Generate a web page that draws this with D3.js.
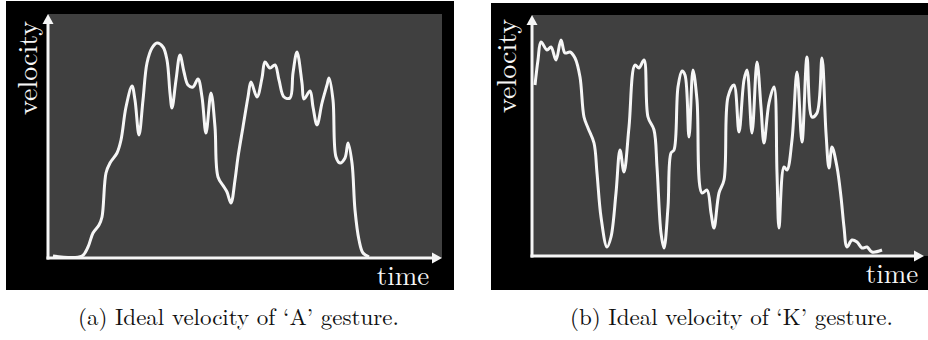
<!DOCTYPE html>
<html>
<head>
<meta charset="utf-8">
<script src="https://cdn.jsdelivr.net/npm/d3@7"></script>
<style>
  body { margin: 0; background: #fff; }
  svg { display: block; }
  text { font-family: "Latin Modern Roman", "Nimbus Roman", "Tinos", serif; }
</style>
</head>
<body>
<svg width="928" height="340"></svg>
<script>
// velocity profiles (time in frames, velocity in arbitrary units)
var aTime = [5, 34, 40, 45, 51, 54, 58, 62, 69, 73, 78, 84, 87, 91, 95, 99, 104, 109, 115, 119,
  122, 124, 128, 132, 136, 140, 145, 150, 154, 158, 163, 167, 170, 176, 179, 183, 187, 190, 195, 200,
  203, 209, 214, 217, 222, 227, 231, 236, 242, 245, 249, 254, 256, 262, 265, 269, 274, 279, 281, 285,
  288, 292, 297, 300, 304, 307, 311, 315, 321];
var aVelocity = [2, 2, 11, 25, 33, 41, 85, 95, 105, 118, 151, 172, 158, 123, 158, 195, 210, 215, 211, 198,
  165, 150, 178, 203, 186, 173, 171, 179, 161, 125, 165, 131, 81, 71, 66, 55, 78, 101, 131, 161,
  176, 161, 180, 196, 190, 193, 178, 161, 160, 185, 206, 175, 159, 167, 151, 133, 155, 173, 180, 158,
  101, 95, 100, 115, 95, 48, 18, 5, 1];

var kTime = [3, 6, 9, 15, 19, 24, 29, 33, 38, 43, 48, 52, 56, 62, 65, 69, 75, 79, 84, 88,
  92, 97, 103, 107, 112, 116, 122, 125, 129, 132, 136, 139, 142, 146, 150, 153, 157, 161, 165, 170,
  175, 179, 182, 187, 192, 196, 202, 207, 212, 215, 220, 225, 229, 232, 237, 242, 245, 247, 252, 255,
  260, 265, 270, 275, 280, 285, 290, 294, 297, 300, 305, 309, 312, 315, 320, 325, 330, 335, 340, 350];
var kVelocity = [171, 196, 214, 206, 209, 196, 216, 203, 204, 198, 179, 139, 128, 113, 83, 39, 9, 19, 63, 106,
  84, 129, 191, 188, 196, 139, 126, 89, 23, 8, 49, 103, 106, 169, 185, 181, 119, 186, 156, 63,
  66, 43, 28, 63, 76, 159, 171, 124, 176, 186, 123, 194, 149, 113, 153, 169, 83, 28, 89, 86,
  116, 184, 114, 199, 139, 143, 198, 123, 88, 109, 89, 59, 29, 9, 16, 14, 8, 9, 4, 6];

var captions = ["(a) Ideal velocity of \u2018A\u2019 gesture.", "(b) Ideal velocity of \u2018K\u2019 gesture."];

var ink = "#f6f6f6";

var svg = d3.select("svg");

var panels = [
  {time: aTime, velocity: aVelocity, frame: [6, 1, 454, 290], x0: 48, x1: 442, gx1: 442, y0: 258, y1: 14,
   tMax: 394, vMax: 244, velLabel: [37, 68], timeLabel: [403, 285], caption: captions[0], capX: 78},
  {time: kTime, velocity: kVelocity, frame: [491, 3, 928, 290], x0: 532, x1: 924, gx1: 928, y0: 256, y1: 15,
   tMax: 396, vMax: 241, velLabel: [516, 66], timeLabel: [892, 283], caption: captions[1], capX: 570}
];

panels.forEach(function (p) {
  var g = svg.append("g");

  g.append("rect")
      .attr("x", p.frame[0]).attr("y", p.frame[1])
      .attr("width", p.frame[2] - p.frame[0]).attr("height", p.frame[3] - p.frame[1])
      .attr("fill", "#000");
  g.append("rect")
      .attr("x", p.x0).attr("y", p.y1)
      .attr("width", p.gx1 - p.x0).attr("height", p.y0 - p.y1)
      .attr("fill", "#404040");

  var x = d3.scaleLinear().domain([0, p.tMax]).range([p.x0, p.gx1]);
  var y = d3.scaleLinear().domain([0, p.vMax]).range([p.y0, p.y1]);

  var line = d3.line()
      .x(function (d) { return x(d[0]); })
      .y(function (d) { return y(d[1]); })
      .curve(d3.curveCatmullRom.alpha(0.5));

  g.append("path")
      .attr("d", line(d3.zip(p.time, p.velocity)))
      .attr("fill", "none")
      .attr("stroke", ink)
      .attr("stroke-width", 3)
      .attr("stroke-linejoin", "round");

  // axes with arrow heads
  g.append("line")
      .attr("x1", p.x0).attr("y1", p.y0 + 1.5).attr("x2", p.x0).attr("y2", p.y1 + 8)
      .attr("stroke", ink).attr("stroke-width", 3);
  g.append("line")
      .attr("x1", p.x0 - 1.5).attr("y1", p.y0).attr("x2", p.x1 - 8).attr("y2", p.y0)
      .attr("stroke", ink).attr("stroke-width", 3);
  g.append("path")
      .attr("d", "M" + p.x0 + "," + p.y1 + "l-5.5,10h11z")
      .attr("fill", ink);
  g.append("path")
      .attr("d", "M" + p.x1 + "," + p.y0 + "l-10,-5.5v11z")
      .attr("fill", ink);

  g.append("text")
      .attr("transform", "translate(" + p.velLabel[0] + "," + p.velLabel[1] + ") rotate(-90)")
      .attr("text-anchor", "middle")
      .attr("font-size", 28)
      .attr("fill", ink)
      .text("velocity");
  g.append("text")
      .attr("x", p.timeLabel[0]).attr("y", p.timeLabel[1])
      .attr("text-anchor", "middle")
      .attr("font-size", 27)
      .attr("fill", ink)
      .text("time");

  svg.append("text")
      .attr("x", p.capX).attr("y", 325)
      .attr("font-size", 23)
      .attr("fill", "#111")
      .text(p.caption);
});
</script>
</body>
</html>
